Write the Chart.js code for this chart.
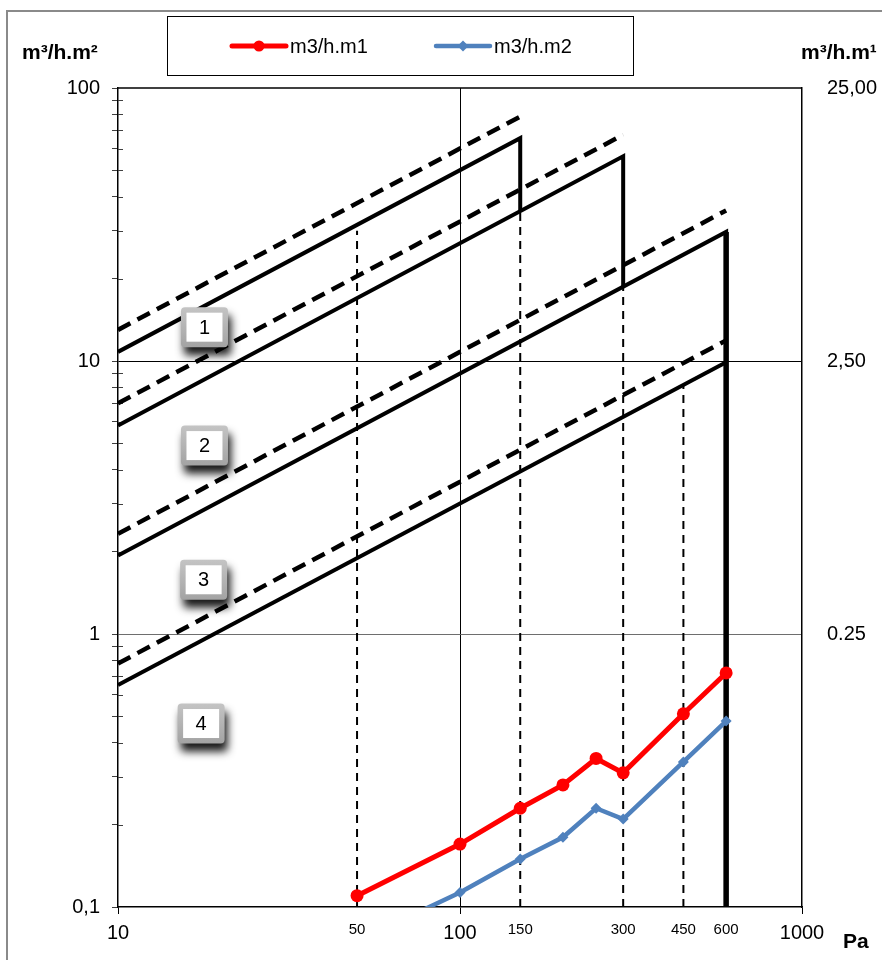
<!DOCTYPE html>
<html>
<head>
<meta charset="utf-8">
<style>
  html, body { margin: 0; padding: 0; background: #fff; }
  canvas { display: block; }
</style>
<script src="https://cdn.jsdelivr.net/npm/chart.js@4.4.1/dist/chart.umd.min.js"></script>
</head>
<body>
<canvas id="c" width="882" height="960"></canvas>
<script>
// Measured air leakage of the two samples against test pressure (Pa)
const pressure = [50, 100, 150, 200, 250, 300, 450, 600];
const flowM1 = [0.11, 0.17, 0.23, 0.28, 0.35, 0.31, 0.51, 0.72];
const flowM2 = [0.075, 0.113, 0.15, 0.18, 0.23, 0.21, 0.34, 0.48];

// Class limit lines: value at 10 Pa and at the class maximum test pressure
const classNames = ['1', '2', '3', '4'];
const classMaxPa = [150, 300, 600, 600];
const solidAt10 = [10.8, 5.8, 1.94, 0.65];
const solidAtMax = [65.5, 56.2, 29.7, 9.9];
const dashedAt10 = [13.0, 7.0, 2.33, 0.78];
const dashedAtMax = [78.6, 67.4, 35.6, 11.9];
// lower end of the vertical that closes each class (null = no closing line)
const closeDownTo = [35.4, 18.7, 0.1, null];

// Thin dashed guides at the test pressures
const guidePa = [50, 150, 300, 450];
const guideTop = [30, 35.4, 18.7, 8.2];

// Axis ticks
const xTicks = [10, 50, 100, 150, 300, 450, 600, 1000];
const xMajor = [10, 100, 1000];
const yLabels = { '100': '100', '10': '10', '1': '1', '0.1': '0,1' };
const y2Ticks = [25, 2.5, 0.25];
const y2Labels = ['25,00', '2,50', '0.25'];

// Class tag anchors (Pa, m³/h.m²)
const tagPa = [17.9, 17.9, 17.8, 17.5];
const tagFlow = [13.3, 4.9, 1.58, 0.47];

const FONT = '"Liberation Sans", Arial, sans-serif';
const CLEAR = 'rgba(0,0,0,0)';

// log minor ticks 0.1 … 100
const yTicks = [];
for (let e = -1; e <= 1; e++) {
  for (let m = 1; m <= 9; m++) yTicks.push(+(m * Math.pow(10, e)).toPrecision(3));
}
yTicks.push(100);

const isDecade = v => Math.abs(Math.log10(v) - Math.round(Math.log10(v))) < 1e-9;
const pts = (xs, ys) => xs.map((x, i) => ({ x, y: ys[i] }));

const datasets = [
  {
    label: 'm3/h.m1', data: pts(pressure, flowM1),
    borderColor: '#ff0000', backgroundColor: '#ff0000',
    borderWidth: 5, pointStyle: 'circle', pointRadius: 6.5, pointBorderWidth: 0,
    showLine: true
  },
  {
    label: 'm3/h.m2', data: pts(pressure, flowM2),
    borderColor: '#4f81bd', backgroundColor: '#4f81bd',
    borderWidth: 4.5, pointStyle: 'rectRot', pointRadius: 5.5, pointBorderWidth: 0,
    showLine: true
  }
];

classNames.forEach((n, i) => {
  const solid = [{ x: 10, y: solidAt10[i] }, { x: classMaxPa[i], y: solidAtMax[i] }];
  if (closeDownTo[i] !== null) solid.push({ x: classMaxPa[i], y: closeDownTo[i] });
  datasets.push({
    label: 'class ' + n, data: solid,
    borderColor: '#000', borderWidth: 4, borderJoinStyle: 'miter',
    pointRadius: 0, showLine: true
  });
  datasets.push({
    label: 'class ' + n + ' upper',
    data: [{ x: 10, y: dashedAt10[i] }, { x: classMaxPa[i], y: dashedAtMax[i] }],
    borderColor: '#000', borderWidth: 4.5, borderDash: [14, 8],
    pointRadius: 0, showLine: true
  });
});

// heavy closing line at the top test pressure
datasets.push({
  label: 'max pressure', data: [{ x: classMaxPa[2], y: solidAtMax[2] }, { x: classMaxPa[2], y: closeDownTo[2] }],
  borderColor: '#000', borderWidth: 5.5, pointRadius: 0, showLine: true
});

guidePa.forEach((p, i) => {
  datasets.push({
    label: 'guide ' + p, data: [{ x: p, y: 0.1 }, { x: p, y: guideTop[i] }],
    borderColor: '#000', borderWidth: 2, borderDash: [8, 6],
    pointRadius: 0, showLine: true
  });
});

function roundRect(ctx, x, y, w, h, r) {
  ctx.beginPath();
  ctx.moveTo(x + r, y);
  ctx.lineTo(x + w - r, y);
  ctx.quadraticCurveTo(x + w, y, x + w, y + r);
  ctx.lineTo(x + w, y + h - r);
  ctx.quadraticCurveTo(x + w, y + h, x + w - r, y + h);
  ctx.lineTo(x + r, y + h);
  ctx.quadraticCurveTo(x, y + h, x, y + h - r);
  ctx.lineTo(x, y + r);
  ctx.quadraticCurveTo(x, y, x + r, y);
  ctx.closePath();
}

const decor = {
  id: 'decor',
  beforeDatasetsDraw(chart) {
    const { ctx, chartArea: a, scales: { y } } = chart;
    ctx.save();
    // top edge of the plot frame
    ctx.strokeStyle = '#000';
    ctx.lineWidth = 1.5;
    ctx.beginPath();
    ctx.moveTo(a.left, a.top);
    ctx.lineTo(a.right, a.top);
    ctx.stroke();
    // minor ticks cross the left axis
    ctx.strokeStyle = '#404040';
    ctx.lineWidth = 1;
    y.ticks.forEach(t => {
      if (isDecade(t.value)) return;
      const py = Math.round(y.getPixelForValue(t.value)) + 0.5;
      ctx.beginPath();
      ctx.moveTo(a.left, py);
      ctx.lineTo(a.left + 5, py);
      ctx.stroke();
    });
    ctx.restore();
  },
  afterDatasetsDraw(chart) {
    const { ctx, scales: { x, y } } = chart;
    // class tags
    classNames.forEach((n, i) => {
      const cx = x.getPixelForValue(tagPa[i]);
      const cy = y.getPixelForValue(tagFlow[i]);
      const w = 47, h = 40, b = 5.5;
      const left = cx - w / 2, top = cy - h / 2;
      ctx.save();
      ctx.shadowColor = 'rgba(0,0,0,0.9)';
      ctx.shadowBlur = 9;
      ctx.shadowOffsetX = 3;
      ctx.shadowOffsetY = 8;
      const g = ctx.createLinearGradient(0, top, 0, top + h);
      g.addColorStop(0, '#c4c4c4');
      g.addColorStop(1, '#a3a3a3');
      ctx.fillStyle = g;
      roundRect(ctx, left, top, w, h, 4);
      ctx.fill();
      ctx.restore();
      ctx.save();
      ctx.fillStyle = '#fff';
      ctx.fillRect(left + b, top + b, w - 2 * b, h - 2 * b);
      ctx.fillStyle = '#000';
      ctx.font = '20px ' + FONT;
      ctx.textAlign = 'center';
      ctx.textBaseline = 'middle';
      ctx.fillText(n, cx, cy + 1);
      ctx.restore();
    });
  },
  afterDraw(chart) {
    const { ctx } = chart;
    ctx.save();
    // outer frame
    ctx.strokeStyle = '#8a8a8a';
    ctx.lineWidth = 2;
    ctx.beginPath();
    ctx.moveTo(7, 970);
    ctx.lineTo(7, 11);
    ctx.lineTo(890, 11);
    ctx.stroke();

    // legend
    ctx.strokeStyle = '#000';
    ctx.lineWidth = 1;
    ctx.strokeRect(167.5, 16.5, 466, 59);
    const items = [
      { ds: chart.data.datasets[0], x0: 232 },
      { ds: chart.data.datasets[1], x0: 436 }
    ];
    items.forEach(({ ds, x0 }) => {
      const ly = 46;
      ctx.strokeStyle = ds.borderColor;
      ctx.lineWidth = ds.borderWidth;
      ctx.lineCap = 'round';
      ctx.beginPath();
      ctx.moveTo(x0, ly);
      ctx.lineTo(x0 + 54, ly);
      ctx.stroke();
      ctx.fillStyle = ds.backgroundColor;
      const mx = x0 + 27;
      ctx.beginPath();
      if (ds.pointStyle === 'circle') {
        ctx.arc(mx, ly, 5.5, 0, Math.PI * 2);
      } else {
        ctx.moveTo(mx, ly - 5.5);
        ctx.lineTo(mx + 5.5, ly);
        ctx.lineTo(mx, ly + 5.5);
        ctx.lineTo(mx - 5.5, ly);
        ctx.closePath();
      }
      ctx.fill();
      ctx.fillStyle = '#000';
      ctx.font = '20px ' + FONT;
      ctx.textAlign = 'left';
      ctx.textBaseline = 'middle';
      ctx.fillText(ds.label, x0 + 58, ly + 1);
    });

    // axis titles
    ctx.fillStyle = '#000';
    ctx.font = 'bold 21px ' + FONT;
    ctx.textBaseline = 'middle';
    ctx.textAlign = 'left';
    ctx.fillText('m³/h.m²', 22, 53);
    ctx.fillText('m³/h.m¹', 801, 53);
    ctx.fillText('Pa', 843, 942);
    ctx.restore();
  }
};

new Chart(document.getElementById('c'), {
  type: 'scatter',
  data: { datasets },
  plugins: [decor],
  options: {
    responsive: false,
    animation: false,
    devicePixelRatio: 1,
    layout: { padding: { top: 88, left: 0, right: 0, bottom: 0 } },
    plugins: { legend: { display: false }, tooltip: { enabled: false } },
    elements: { line: { tension: 0 } },
    scales: {
      x: {
        type: 'logarithmic', position: 'bottom', min: 10, max: 1000,
        afterBuildTicks: s => { s.ticks = xTicks.map(v => ({ value: v })); },
        afterFit: s => { s.height = 53; },
        ticks: {
          autoSkip: false, maxRotation: 0, minRotation: 0, color: '#000', padding: 7,
          callback: v => String(v),
          font: c => ({ family: FONT, size: (c.tick && xMajor.includes(c.tick.value)) ? 20 : 15 })
        },
        grid: {
          lineWidth: 1, tickLength: 7,
          color: c => (c.tick && c.tick.value === 100) ? '#000' : CLEAR,
          tickColor: c => (c.tick && xMajor.includes(c.tick.value)) ? '#000' : CLEAR
        },
        border: { color: '#000', width: 1.5 }
      },
      y: {
        type: 'logarithmic', position: 'left', min: 0.1, max: 100,
        afterBuildTicks: s => { s.ticks = yTicks.map(v => ({ value: v })); },
        afterFit: s => { s.width = 118; },
        ticks: {
          autoSkip: false, color: '#000', padding: 12,
          font: { family: FONT, size: 20 },
          callback: v => yLabels[String(v)] ?? ''
        },
        grid: {
          lineWidth: 1, tickLength: 6,
          color: c => {
            const v = c.tick && c.tick.value;
            if (v === 10) return '#000';
            if (v === 1) return '#6e6e6e';
            return CLEAR;
          },
          tickColor: '#404040'
        },
        border: { color: '#000', width: 1.5 }
      },
      y2: {
        type: 'logarithmic', position: 'right', min: 0.025, max: 25,
        afterBuildTicks: s => { s.ticks = y2Ticks.map(v => ({ value: v })); },
        afterFit: s => { s.width = 80; },
        ticks: {
          autoSkip: false, color: '#000', padding: 25,
          font: { family: FONT, size: 20 },
          callback: v => y2Labels[y2Ticks.indexOf(v)]
        },
        grid: { display: false, drawTicks: false },
        border: { color: '#000', width: 1.5 }
      }
    }
  }
});
</script>
</body>
</html>
